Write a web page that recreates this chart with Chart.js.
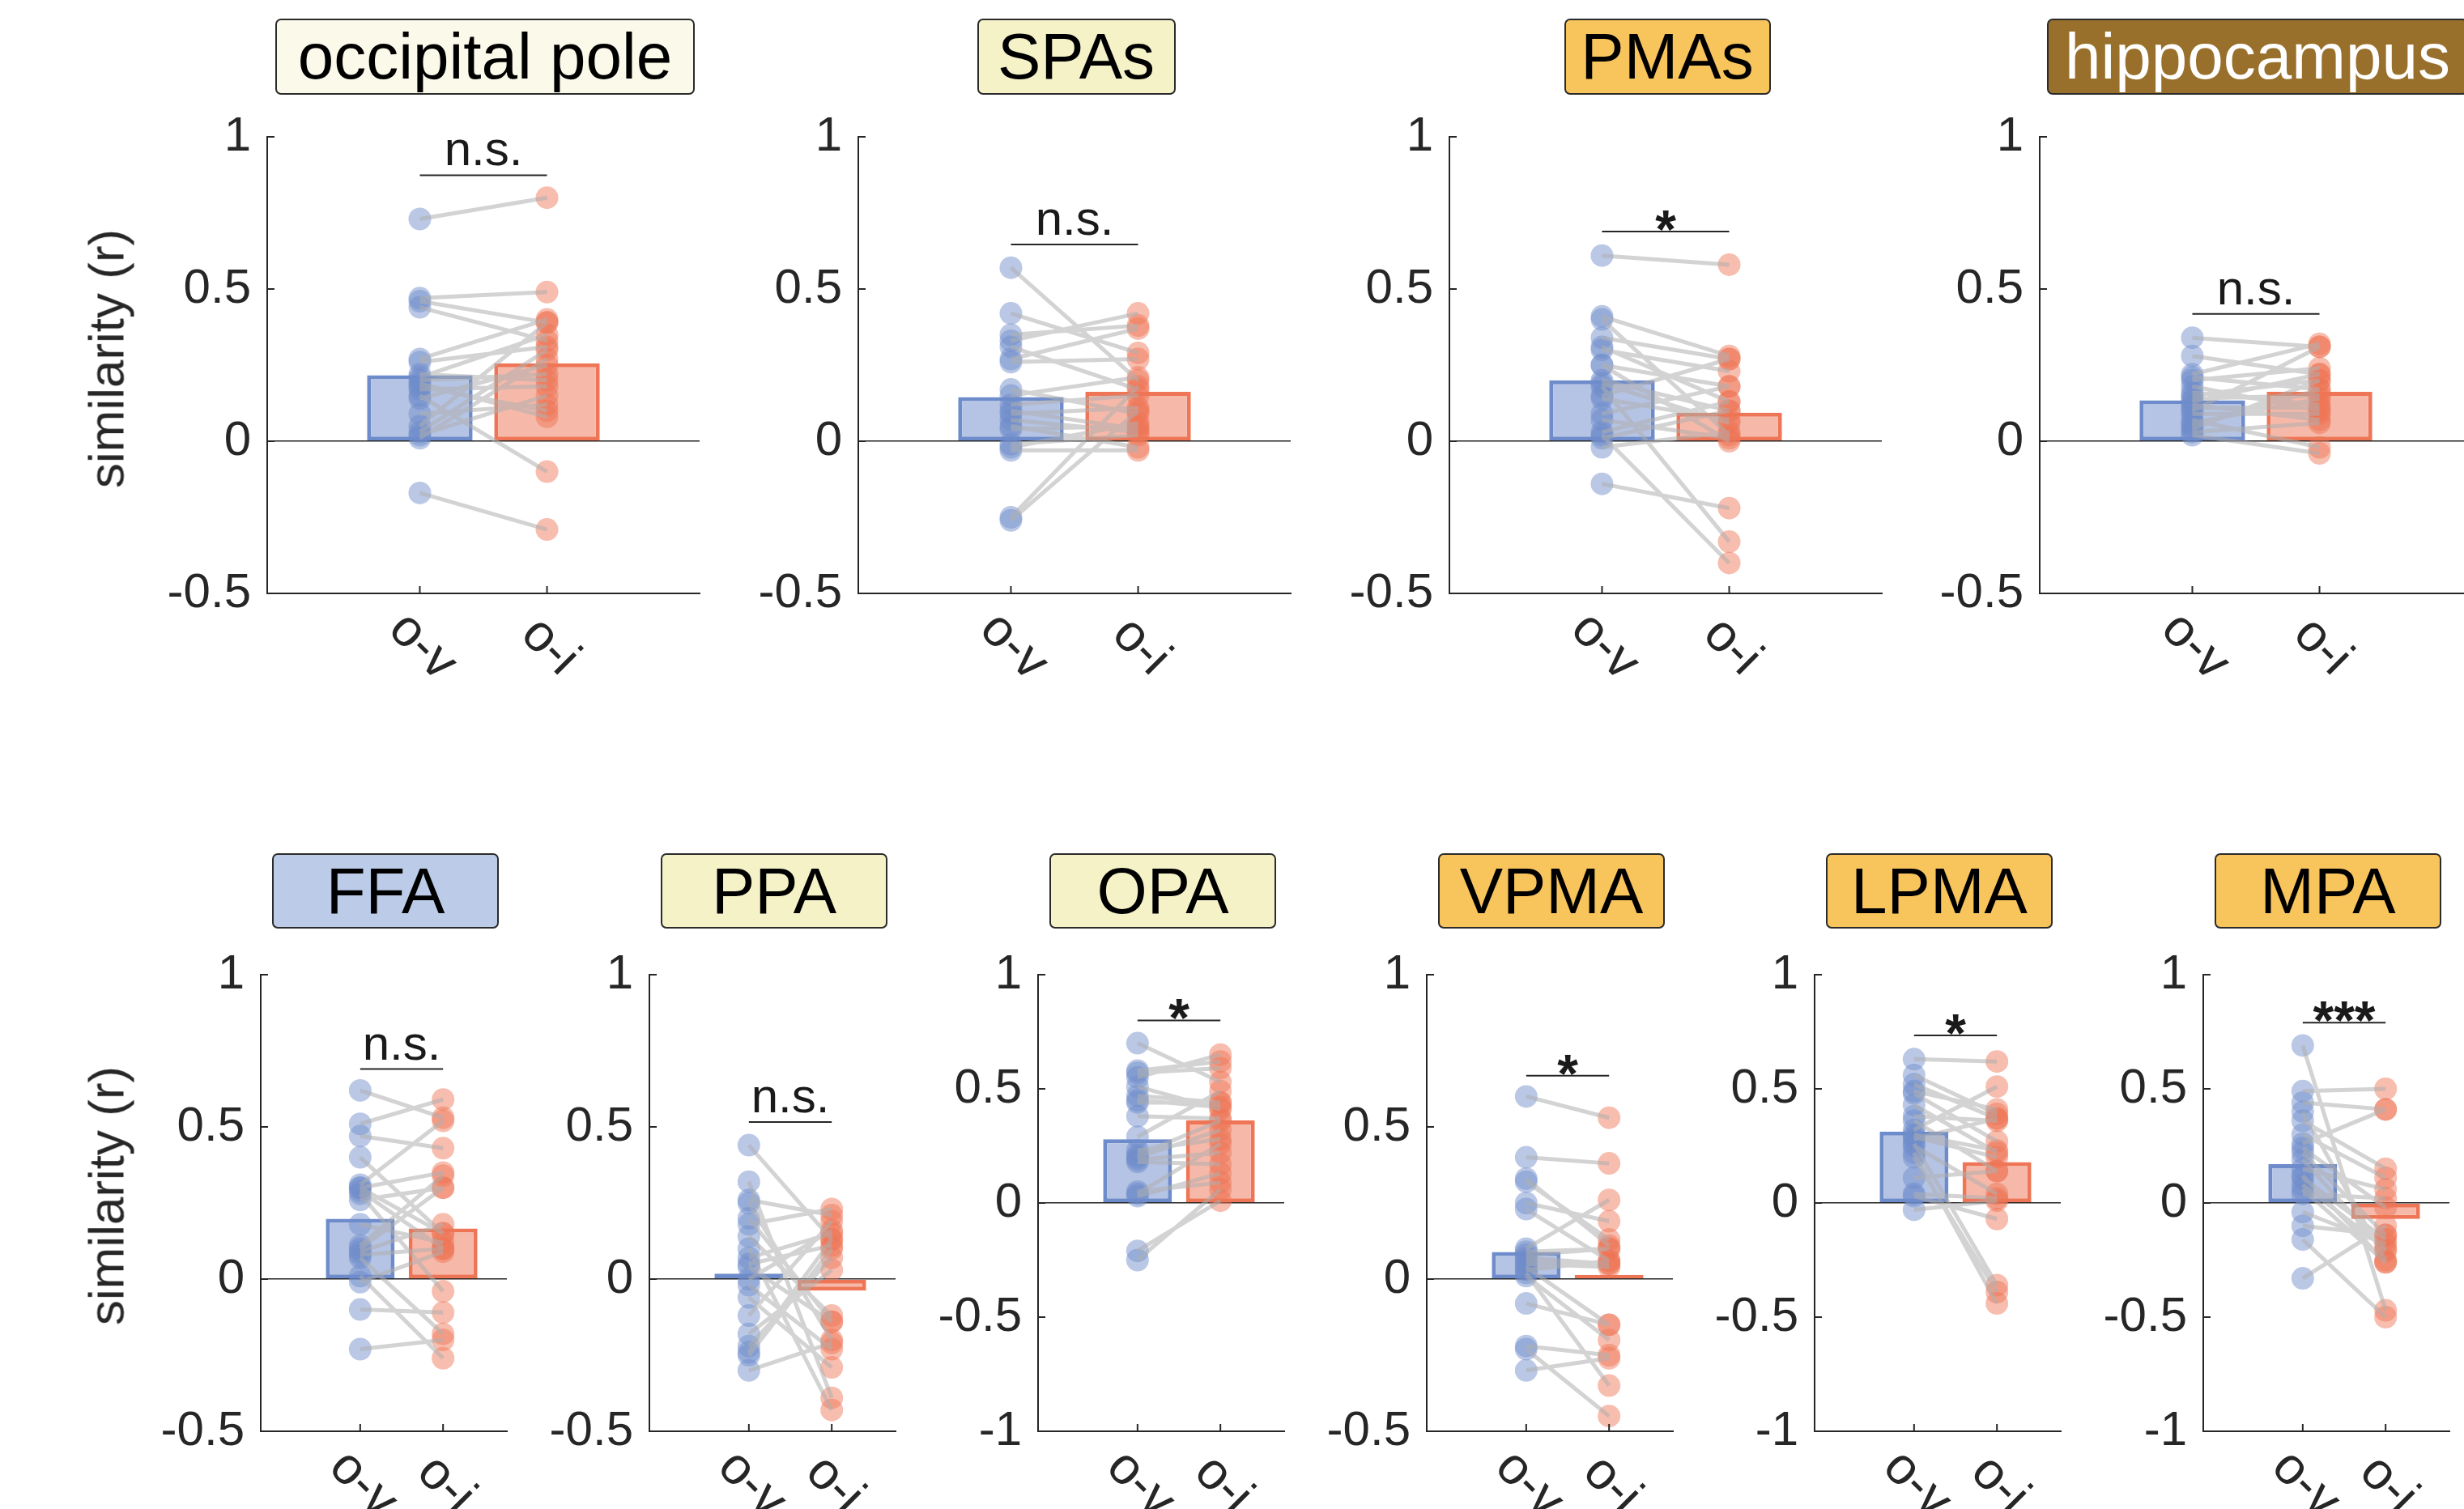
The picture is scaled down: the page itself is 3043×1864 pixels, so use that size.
<!DOCTYPE html>
<html>
<head>
<meta charset="utf-8">
<script src="https://cdn.jsdelivr.net/npm/chart.js@4.4.1/dist/chart.umd.min.js"></script>
<style>
  body { margin: 0; width: 3043px; height: 1864px; background: #fff; overflow: hidden; position: relative;
         font-family: "Liberation Sans", Arial, sans-serif; }
  canvas { position: absolute; }
  .ttl { position: absolute; box-sizing: border-box; border: 2px solid #2b2b2b; border-radius: 7px;
         text-align: center; font-size: 80px; color: #000; white-space: nowrap; }
  .ylab { position: absolute; font-size: 62px; color: #262626; white-space: nowrap;
          transform: translate(-50%, -50%) rotate(-90deg); }
</style>
</head>
<body>
<script>
// ---- data ----
const conditions = ['o-v', 'o-i'];
const xTickValues = [1, 2];
const regions = ['occipital pole', 'SPAs', 'PMAs', 'hippocampus', 'FFA', 'PPA', 'OPA', 'VPMA', 'LPMA', 'MPA'];
const meanOV = [0.217, 0.145, 0.200, 0.134, 0.198, 0.018, 0.279, 0.089, 0.313, 0.170];
const meanOI = [0.256, 0.162, 0.094, 0.162, 0.166, -0.038, 0.362, 0.014, 0.179, -0.070];
const sigText = ['n.s.', 'n.s.', '*', 'n.s.', 'n.s.', 'n.s.', '*', '*', '*', '***'];
const sigY = [0.874, 0.646, 0.689, 0.418, 0.69, 0.516, 0.80, 0.668, 0.734, 0.79];
const yMin = [-0.5, -0.5, -0.5, -0.5, -0.5, -0.5, -1, -0.5, -1, -1];
const yTicksHalf = [-0.5, 0, 0.5, 1];
const yTicksFull = [-1, -0.5, 0, 0.5, 1];

// per-subject similarity, o-v and o-i (paired by index)
const occipitalOV = [0.73, 0.47, 0.46, 0.44, 0.27, 0.26, 0.21, 0.20, 0.18, 0.17, 0.15, 0.14, 0.09, 0.05, 0.03, 0.02, 0.01, 0.19, 0.22, -0.17];
const occipitalOI = [0.80, 0.49, 0.39, 0.33, 0.40, 0.31, 0.35, 0.22, 0.10, 0.18, -0.10, 0.25, 0.12, 0.39, 0.30, 0.15, 0.27, 0.08, 0.20, -0.29];
const spasOV = [0.57, 0.42, 0.35, 0.33, 0.31, 0.27, 0.26, 0.17, 0.15, 0.12, 0.10, 0.09, 0.07, 0.05, 0.04, -0.01, -0.03, -0.02, -0.25, -0.26];
const spasOI = [0.20, 0.29, 0.38, 0.42, 0.17, 0.37, 0.27, 0.09, 0.21, 0.15, 0.04, 0.11, 0.03, -0.02, 0.05, 0.02, -0.03, 0.06, 0.18, 0.10];
const pmasOV = [0.61, 0.41, 0.40, 0.34, 0.31, 0.30, 0.25, 0.20, 0.18, 0.15, 0.14, 0.09, 0.07, 0.03, 0.02, -0.02, -0.14, 0.19, 0.25, 0.01];
const pmasOI = [0.58, 0.28, 0.02, 0.27, 0.13, 0.23, 0.18, 0.10, -0.33, 0.27, 0.07, 0.18, 0.01, 0.13, -0.40, 0.03, -0.22, 0.06, 0.00, 0.10];
const hippoOV = [0.34, 0.28, 0.22, 0.21, 0.20, 0.18, 0.16, 0.15, 0.14, 0.12, 0.10, 0.09, 0.07, 0.06, 0.04, 0.03, 0.02, 0.13, 0.11, 0.05];
const hippoOI = [0.31, 0.22, 0.32, 0.17, 0.24, 0.10, 0.12, 0.20, 0.15, 0.07, 0.31, 0.09, -0.02, 0.14, 0.20, 0.06, -0.04, 0.22, 0.11, 0.17];
const ffaOV = [0.62, 0.51, 0.47, 0.40, 0.31, 0.30, 0.29, 0.26, 0.18, 0.11, 0.09, 0.07, 0.01, -0.01, -0.10, -0.23, 0.28, 0.08, 0.10, 0.30];
const ffaOI = [0.53, 0.59, 0.43, 0.15, 0.52, 0.35, 0.10, 0.30, 0.12, 0.34, 0.18, -0.18, -0.26, 0.09, -0.11, -0.20, -0.04, 0.10, 0.30, 0.15];
const ppaOV = [0.44, 0.32, 0.26, 0.25, 0.18, 0.14, 0.07, 0.05, 0.04, -0.02, -0.06, -0.12, -0.18, -0.24, -0.25, -0.30, 0.10, -0.22, 0.20, 0.00];
const ppaOI = [0.13, -0.39, 0.21, -0.20, 0.23, -0.12, 0.15, 0.11, -0.14, -0.23, -0.29, 0.19, 0.03, 0.13, 0.10, -0.21, -0.43, 0.07, -0.14, 0.16];
const opaOV = [0.70, 0.58, 0.55, 0.51, 0.47, 0.44, 0.38, 0.29, 0.23, 0.20, 0.18, 0.05, 0.03, -0.21, -0.25, 0.57, 0.45, 0.19, 0.21, 0.04];
const opaOI = [0.53, 0.62, 0.65, 0.41, 0.44, 0.44, 0.37, 0.49, 0.28, 0.32, 0.17, 0.09, 0.13, 0.01, 0.06, 0.59, 0.42, 0.22, 0.36, 0.26];
const vpmaOV = [0.60, 0.40, 0.33, 0.32, 0.25, 0.23, 0.10, 0.09, 0.06, 0.04, 0.02, 0.01, -0.08, -0.22, -0.23, -0.30, 0.08, 0.05, 0.07, 0.03];
const vpmaOI = [0.53, 0.38, 0.11, 0.13, 0.19, 0.06, 0.26, 0.10, 0.05, -0.15, -0.35, -0.20, -0.15, -0.25, -0.45, -0.26, 0.10, 0.04, 0.05, 0.06];
const lpmaOV = [0.63, 0.56, 0.52, 0.49, 0.48, 0.43, 0.38, 0.36, 0.32, 0.29, 0.26, 0.22, 0.11, 0.04, 0.03, -0.03, 0.25, 0.20, 0.30, 0.28];
const lpmaOI = [0.62, 0.39, 0.37, 0.41, 0.27, 0.22, 0.36, 0.14, 0.51, 0.20, -0.36, -0.44, 0.14, 0.02, -0.07, 0.01, 0.04, -0.39, 0.23, 0.37];
const mpaOV = [0.69, 0.49, 0.44, 0.40, 0.36, 0.26, 0.22, 0.19, 0.15, 0.11, 0.06, 0.04, -0.04, -0.10, -0.16, -0.33, 0.30, 0.24, 0.12, 0.08];
const mpaOI = [-0.47, 0.50, 0.41, -0.25, 0.15, 0.41, -0.14, -0.21, 0.06, -0.16, -0.26, 0.02, -0.18, -0.14, -0.50, -0.10, 0.11, -0.02, -0.26, -0.20];

const subjOV = [occipitalOV, spasOV, pmasOV, hippoOV, ffaOV, ppaOV, opaOV, vpmaOV, lpmaOV, mpaOV];
const subjOI = [occipitalOI, spasOI, pmasOI, hippoOI, ffaOI, ppaOI, opaOI, vpmaOI, lpmaOI, mpaOI];

// ---- layout / style ----
const FONT = '"Liberation Sans", Arial, sans-serif';
const rows = [
  { top: 169, h: 564, w: 538, xmax: 3.2, lefts: [330, 1060, 1790, 2519], titleTop: 23, titleH: 94,
    titleW: [518, 245, 255, 520], ylabY: 443 },
  { top: 1204, h: 564, w: 308, xmax: 2.77, lefts: [322, 802, 1282, 1762, 2241, 2721], titleTop: 1054, titleH: 93,
    titleW: [280, 280, 280, 280, 280, 280], ylabY: 1477 }
];
const titleBg = ['#FBF9EA', '#F5F2C8', '#F8C45C', '#98702B', '#BCCBE8', '#F5F2C8', '#F5F2C8', '#F8C45C', '#F8C45C', '#F8C45C'];
const titleFg = ['#000', '#000', '#000', '#fff', '#000', '#000', '#000', '#000', '#000', '#000'];
const blueLine = '#6E8BCB', blueFill = '#B5C4E4', blueDot = 'rgba(110,139,203,0.48)';
const redLine = '#EE7555', redFill = '#F6B9A9', redDot = 'rgba(238,117,85,0.48)';
// top padding must cover half a tick label plus tick padding, or Chart.js pushes the area down
const YW = 200, PT = 60, XH = 120, PR = 10;

const deco = {
  id: 'deco',
  afterDraw(chart, args, o) {
    const { ctx, chartArea: a, scales: { x, y } } = chart;
    ctx.save();
    ctx.strokeStyle = '#262626';
    ctx.lineWidth = 2;
    // inward ticks, MATLAB style
    y.ticks.forEach(t => {
      const py = y.getPixelForValue(t.value);
      ctx.beginPath(); ctx.moveTo(a.left, py); ctx.lineTo(a.left + 9, py); ctx.stroke();
    });
    x.ticks.forEach(t => {
      const px = x.getPixelForValue(t.value);
      ctx.beginPath(); ctx.moveTo(px, a.bottom); ctx.lineTo(px, a.bottom - 9); ctx.stroke();
    });
    // significance bar
    const x1 = x.getPixelForValue(xTickValues[0]), x2 = x.getPixelForValue(xTickValues[1]);
    const sy = y.getPixelForValue(o.sigY);
    ctx.beginPath(); ctx.moveTo(x1, sy); ctx.lineTo(x2, sy); ctx.stroke();
    ctx.fillStyle = '#1a1a1a';
    ctx.textAlign = 'center';
    ctx.textBaseline = 'alphabetic';
    if (o.sig.startsWith('*')) {
      ctx.font = 'bold 66px ' + FONT;
      ctx.fillText(o.sig, (x1 + x2) / 2, sy + 20);
    } else {
      ctx.font = '60px ' + FONT;
      ctx.fillText(o.sig, (x1 + x2) / 2, sy - 12);
    }
    // rotated category labels
    ctx.fillStyle = '#262626';
    ctx.font = '64px ' + FONT;
    ctx.textBaseline = 'middle';
    conditions.forEach((c, i) => {
      const px = x.getPixelForValue(xTickValues[i]);
      ctx.save();
      ctx.translate(px + 3, a.bottom + 66);
      ctx.rotate(Math.PI / 4);
      ctx.fillText(c, 0, 0);
      ctx.restore();
    });
    ctx.restore();
  }
};

let k = 0;
rows.forEach((row, r) => {
  row.lefts.forEach((left, j) => {
    const i = k++;
    const ov = subjOV[i], oi = subjOI[i];

    // title box
    const tw = row.titleW[j];
    const t = document.createElement('div');
    t.className = 'ttl';
    t.textContent = regions[i];
    Object.assign(t.style, {
      left: (left + row.w / 2 - tw / 2) + 'px', top: row.titleTop + 'px', width: tw + 'px',
      height: row.titleH + 'px', lineHeight: (row.titleH - 4) + 'px', background: titleBg[i], color: titleFg[i]
    });
    document.body.appendChild(t);

    const cv = document.createElement('canvas');
    const cw = YW + row.w + PR, ch = PT + row.h + XH;
    cv.width = cw; cv.height = ch;
    cv.style.left = (left - YW) + 'px';
    cv.style.top = (row.top - PT) + 'px';
    cv.style.width = cw + 'px'; cv.style.height = ch + 'px';
    document.body.appendChild(cv);

    const pairs = [];
    ov.forEach((v, s) => { pairs.push({ x: 1, y: v }, { x: 2, y: oi[s] }, { x: 1.5, y: null }); });
    const ticks = yMin[i] === -1 ? yTicksFull : yTicksHalf;

    new Chart(cv.getContext('2d'), {
      type: 'bar',
      data: {
        datasets: [
          {
            type: 'line', label: 'pairs', data: pairs, order: 0,
            borderColor: 'rgba(175,175,175,0.55)', borderWidth: 5, pointRadius: 0, spanGaps: false, fill: false
          },
          {
            type: 'line', label: conditions[0], data: ov.map(v => ({ x: 1, y: v })), order: 1, showLine: false,
            pointRadius: 14, pointBorderWidth: 0, pointBackgroundColor: blueDot
          },
          {
            type: 'line', label: conditions[1], data: oi.map(v => ({ x: 2, y: v })), order: 1, showLine: false,
            pointRadius: 14, pointBorderWidth: 0, pointBackgroundColor: redDot
          },
          {
            type: 'bar', label: 'mean', order: 2,
            data: [{ x: 1, y: meanOV[i] }, { x: 2, y: meanOI[i] }],
            backgroundColor: [blueFill, redFill], borderColor: [blueLine, redLine],
            borderWidth: 5, borderSkipped: false, barPercentage: 0.83, categoryPercentage: 1
          }
        ]
      },
      options: {
        responsive: false,
        animation: false,
        devicePixelRatio: 1,
        layout: { padding: { top: PT, right: PR, left: 0, bottom: 0 } },
        plugins: {
          legend: { display: false },
          tooltip: { enabled: false },
          deco: { sig: sigText[i], sigY: sigY[i] }
        },
        scales: {
          x: {
            type: 'linear', min: -0.2, max: row.xmax, offset: false,
            afterBuildTicks: s => { s.ticks = xTickValues.map(v => ({ value: v })); },
            afterFit: s => { s.height = XH; },
            ticks: { display: false },
            grid: { display: false, offset: false },
            border: { display: true, color: '#262626', width: 2 }
          },
          y: {
            type: 'linear', min: yMin[i], max: 1,
            afterBuildTicks: s => { s.ticks = ticks.map(v => ({ value: v })); },
            afterFit: s => { s.width = YW; },
            ticks: { padding: 20, color: '#262626', font: { size: 60, family: FONT }, callback: v => String(v) },
            grid: {
              drawTicks: false, lineWidth: 1.5,
              color: c => (c.tick && c.tick.value === 0 ? '#222' : 'rgba(0,0,0,0)')
            },
            border: { display: true, color: '#262626', width: 2 }
          }
        }
      },
      plugins: [deco]
    });
  });

  const yl = document.createElement('div');
  yl.className = 'ylab';
  yl.textContent = 'similarity (r)';
  yl.style.left = '131px';
  yl.style.top = row.ylabY + 'px';
  document.body.appendChild(yl);
});
</script>
</body>
</html>
